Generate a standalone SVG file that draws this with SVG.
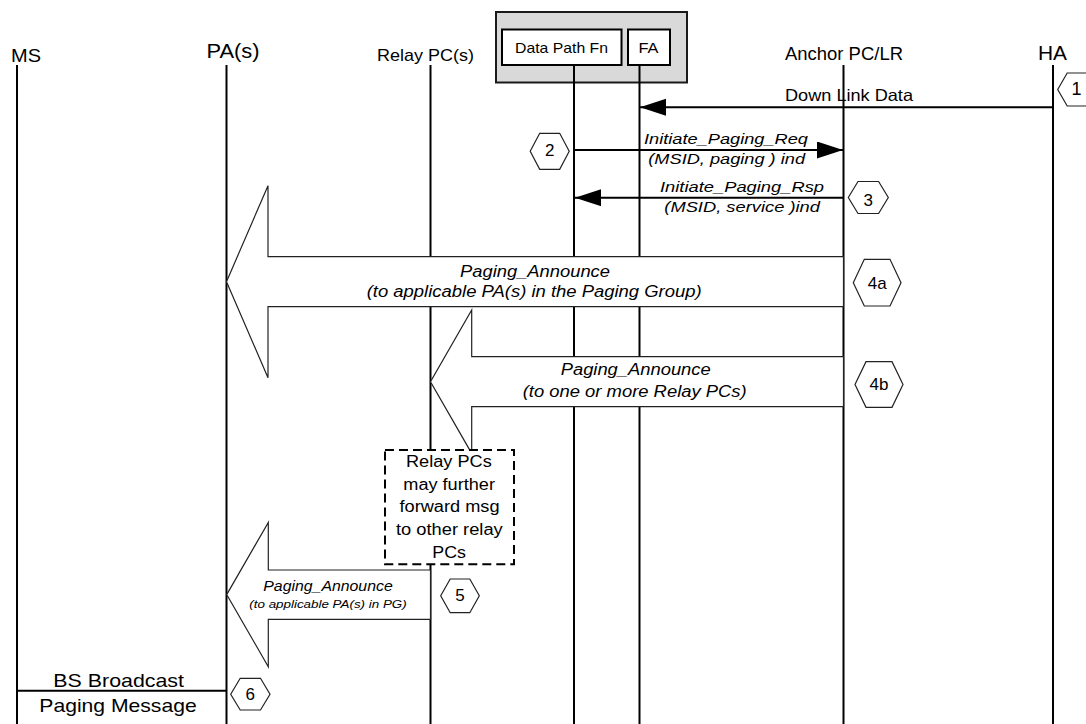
<svg xmlns="http://www.w3.org/2000/svg" width="1086" height="724" viewBox="0 0 1086 724">
<style>
.t{font-family:"Liberation Sans",Arial,sans-serif;fill:#000}
.i{font-style:italic}
.life{stroke:#000;stroke-width:2;fill:none}
.msg{stroke:#000;stroke-width:2;fill:none}
.blk{fill:#fff;stroke:#222;stroke-width:1.2}
.hex{fill:#fff;stroke:#222;stroke-width:1.2}
.box{fill:#fff;stroke:#000;stroke-width:2}
.note{fill:#fff;stroke:#000;stroke-width:2;stroke-dasharray:9 5}
</style>
<defs>
<marker id="ah" markerUnits="userSpaceOnUse" markerWidth="27" markerHeight="18" refX="26" refY="8.5" orient="auto">
<path d="M0,0 L26,8.5 L0,17 Z" fill="#000"/>
</marker>
</defs>
<rect width="1086" height="724" fill="#fff"/>

<g id="node-ms">
<text class="t" x="11" y="61.5" font-size="19" textLength="30" lengthAdjust="spacingAndGlyphs">MS</text>
<line class="life" x1="17" y1="65" x2="17" y2="724"/>
</g>
<g id="node-pa">
<text class="t" x="206.5" y="58" font-size="20.5" textLength="53" lengthAdjust="spacingAndGlyphs">PA(s)</text>
<line class="life" x1="226.5" y1="65" x2="226.5" y2="724"/>
</g>
<g id="node-relay">
<text class="t" x="377" y="60.5" font-size="17" textLength="97" lengthAdjust="spacingAndGlyphs">Relay PC(s)</text>
<line class="life" x1="430.5" y1="65" x2="430.5" y2="724"/>
</g>
<g id="node-asn">
<rect x="496" y="12" width="191" height="70.5" fill="#d9d9d9" stroke="#1a1a1a" stroke-width="2"/>
<g id="node-datapath">
<rect class="box" x="502" y="29.5" width="119.5" height="35.5"/>
<text class="t" x="515" y="53.3" font-size="15" textLength="93" lengthAdjust="spacingAndGlyphs">Data Path Fn</text>
<line class="life" x1="574" y1="65" x2="574" y2="724"/>
</g>
<g id="node-fa">
<rect class="box" x="628" y="29.5" width="42" height="35.5"/>
<text class="t" x="638.5" y="53.3" font-size="15" textLength="20" lengthAdjust="spacingAndGlyphs">FA</text>
<line class="life" x1="639.5" y1="65" x2="639.5" y2="724"/>
</g>
</g>
<g id="node-anchor">
<text class="t" x="785" y="60" font-size="17.5" textLength="118" lengthAdjust="spacingAndGlyphs">Anchor PC/LR</text>
<line class="life" x1="843.5" y1="65" x2="843.5" y2="724"/>
</g>
<g id="node-ha">
<text class="t" x="1038" y="60" font-size="19.5" textLength="29" lengthAdjust="spacingAndGlyphs">HA</text>
<line class="life" x1="1053" y1="65" x2="1053" y2="724"/>
</g>

<g id="connectors">
<line class="msg" x1="1053" y1="107.3" x2="640" y2="107.3" marker-end="url(#ah)"/>
<text class="t" x="785" y="101" font-size="16.5" textLength="128" lengthAdjust="spacingAndGlyphs">Down Link Data</text>

<line class="msg" x1="574" y1="150" x2="843" y2="150" marker-end="url(#ah)"/>
<text class="t i" x="644" y="144" font-size="15.5" textLength="164" lengthAdjust="spacingAndGlyphs">Initiate_Paging_Req</text>
<text class="t i" x="648.3" y="164.3" font-size="15.5" textLength="156.7" lengthAdjust="spacingAndGlyphs">(MSID, paging ) ind</text>

<line class="msg" x1="843" y1="197.7" x2="575" y2="197.7" marker-end="url(#ah)"/>
<text class="t i" x="660" y="191.7" font-size="15.5" textLength="164" lengthAdjust="spacingAndGlyphs">Initiate_Paging_Rsp</text>
<text class="t i" x="664.3" y="211.7" font-size="15.5" textLength="155.7" lengthAdjust="spacingAndGlyphs">(MSID, service )ind</text>

<polygon class="blk" points="843.5,256.7 268,256.7 268,185.7 226.5,281.7 268,377.7 268,306.7 843.5,306.7"/>
<text class="t i" x="460" y="276.7" font-size="16" textLength="150" lengthAdjust="spacingAndGlyphs">Paging_Announce</text>
<text class="t i" x="366.7" y="296.7" font-size="16" textLength="335" lengthAdjust="spacingAndGlyphs">(to applicable PA(s) in the Paging Group)</text>

<polygon class="blk" points="843.5,356.7 471.7,356.7 471.7,310 430.5,381.7 471.7,453.4 471.7,406.7 843.5,406.7"/>
<text class="t i" x="560.7" y="375" font-size="16" textLength="150" lengthAdjust="spacingAndGlyphs">Paging_Announce</text>
<text class="t i" x="522.7" y="397.3" font-size="16" textLength="224" lengthAdjust="spacingAndGlyphs">(to one or more Relay PCs)</text>

<polygon class="blk" points="430.5,570 268.3,570 268.3,522.5 226.7,594.6 268.3,666.7 268.3,619.3 430.5,619.3"/>
<text class="t i" x="263.3" y="590.7" font-size="14" textLength="129.4" lengthAdjust="spacingAndGlyphs">Paging_Announce</text>
<text class="t i" x="249.3" y="608.3" font-size="11" textLength="157.4" lengthAdjust="spacingAndGlyphs">(to applicable PA(s) in PG)</text>

<line class="msg" x1="17" y1="690.7" x2="226.5" y2="690.7"/>
<text class="t" x="53.3" y="686.7" font-size="19" textLength="130.7" lengthAdjust="spacingAndGlyphs">BS Broadcast</text>
<text class="t" x="39.3" y="711.7" font-size="19" textLength="157.4" lengthAdjust="spacingAndGlyphs">Paging Message</text>
</g>

<g id="note-relay">
<rect class="note" x="385" y="450" width="129" height="114.3"/>
<text class="t" x="406" y="467.3" font-size="16" textLength="85.7" lengthAdjust="spacingAndGlyphs">Relay PCs</text>
<text class="t" x="403.3" y="490" font-size="16" textLength="91.7" lengthAdjust="spacingAndGlyphs">may further</text>
<text class="t" x="399.5" y="511.7" font-size="16" textLength="100" lengthAdjust="spacingAndGlyphs">forward msg</text>
<text class="t" x="396" y="535" font-size="16" textLength="106.7" lengthAdjust="spacingAndGlyphs">to other relay</text>
<text class="t" x="432.3" y="557.7" font-size="16" textLength="33.7" lengthAdjust="spacingAndGlyphs">PCs</text>
</g>

<g id="step-1">
<polygon class="hex" points="1057.7,89.5 1067.2,73 1087.2,73 1096.7,89.5 1087.2,106 1067.2,106"/>
<text class="t" x="1076.5" y="95" font-size="18" text-anchor="middle">1</text>
</g>
<g id="step-2">
<polygon class="hex" points="530.2,151.3 539.7,133.3 559.7,133.3 569.2,151.3 559.7,169.3 539.7,169.3"/>
<text class="t" x="549.7" y="156.3" font-size="17" text-anchor="middle">2</text>
</g>
<g id="step-3">
<polygon class="hex" points="848.3,197.5 858,181.5 878.6,181.5 888.3,197.5 878.6,213.5 858,213.5"/>
<text class="t" x="868.3" y="206" font-size="17" text-anchor="middle">3</text>
</g>
<g id="step-4a">
<polygon class="hex" points="853.3,282.7 864.3,259.3 890,259.3 901,282.7 890,306 864.3,306"/>
<text class="t" x="877.2" y="288.5" font-size="17" text-anchor="middle">4a</text>
</g>
<g id="step-4b">
<polygon class="hex" points="855,384.5 866,361.7 892,361.7 903,384.5 892,407.3 866,407.3"/>
<text class="t" x="879" y="389.5" font-size="17" text-anchor="middle">4b</text>
</g>
<g id="step-5">
<polygon class="hex" points="440.7,595.8 450.2,579 469.8,579 479.3,595.8 469.8,612.7 450.2,612.7"/>
<text class="t" x="460" y="600.8" font-size="17" text-anchor="middle">5</text>
</g>
<g id="step-6">
<polygon class="hex" points="230.7,694.2 240.2,678.3 260.5,678.3 270,694.2 260.5,710 240.2,710"/>
<text class="t" x="250.3" y="700" font-size="17" text-anchor="middle">6</text>
</g>
</svg>
